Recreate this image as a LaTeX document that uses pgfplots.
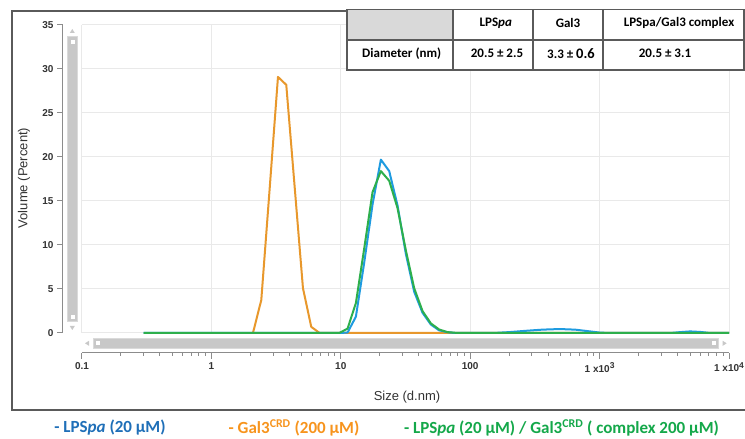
\documentclass[border=0pt]{standalone}
\usepackage{fontspec}
\setmainfont{Carlito}
\newfontfamily\arialf{Liberation Sans}
\usepackage{pgfplots}
\pgfplotsset{compat=1.18}

\definecolor{gridgray}{HTML}{E9E9E9}
\definecolor{axisgray}{HTML}{8C8C8C}
\definecolor{ticktext}{HTML}{333333}
\definecolor{framegray}{HTML}{5A5A5A}
\definecolor{barfill}{HTML}{C8C8C8}
\definecolor{barline}{HTML}{DADADA}
\definecolor{headfill}{HTML}{D9D9D9}
\definecolor{lineorange}{HTML}{E8982C}
\definecolor{lineblue}{HTML}{1E9BE0}
\definecolor{linegreen}{HTML}{2DAF4C}
\definecolor{txtblue}{HTML}{1F6FB8}
\definecolor{txtorange}{HTML}{F7941D}
\definecolor{txtgreen}{HTML}{14A84A}

% raised exponent for the tick labels
\newcommand{\tickexp}[1]{\raisebox{3.6pt}{\fontsize{8.5}{9}\selectfont #1}}

\begin{document}
\begin{tikzpicture}[x=1pt,y=1pt]
\fill[white] (0,0) rectangle (745,439);
\draw[framegray, line width=1.2pt] (12,29) rectangle (780,428);

\begin{axis}[
  at={(82pt,106pt)}, anchor=south west,
  scale only axis, width=647pt, height=308pt,
  xmode=log, xmin=0.1, xmax=10000, ymin=0, ymax=35,
  axis x line*=bottom, axis y line*=left,
  axis x line shift=20pt, axis y line shift=19pt,
  axis line style={axisgray, line width=1pt, -},
  grid=major, major grid style={gridgray, line width=1pt},
  xtick={0.1,1,10,100,1000,10000},
  xticklabels={0.1,1,10,100,{1 x10\tickexp{3}},{1 x10\tickexp{4}}},
  ytick={0,5,10,15,20,25,30,35},
  tick align=outside, major tick length=6pt,
  every tick/.style={axisgray, line width=1pt},
  /pgf/number format/assume math mode=true,
  tick label style={font=\arialf\bfseries\fontsize{10}{12}\selectfont, text=ticktext},
  clip=false,
]
% Gal3 CRD
\addplot[lineorange, line width=2pt, line join=round] coordinates {
  (2.095,0) (2.43,3.75) (2.82,16.4) (3.27,29.1) (3.79,28.2) (4.40,16.6)
  (5.10,5.1) (5.91,0.7) (6.86,0) (100,0) (10000,0)
};
% LPSpa
\addplot[lineblue, line width=2pt, line join=round] coordinates {
  (0.3,0) (9.73,0) (11.28,0.05) (13.08,1.85) (15.17,8.0) (17.59,14.6)
  (20.4,19.7) (23.66,18.4) (27.44,14.5) (31.82,9.0) (36.9,4.7) (42.8,2.3)
  (49.6,0.97) (57.5,0.3) (66.7,0.09) (77.4,0) (150,0) (200,0.1) (270,0.25)
  (360,0.38) (490,0.45) (650,0.38) (800,0.22) (1000,0.05) (1200,0)
  (3500,0) (4200,0.1) (5000,0.18) (6000,0.12) (7200,0) (10000,0)
};
% LPSpa / Gal3 CRD complex
\addplot[linegreen, line width=2pt, line join=round] coordinates {
  (0.3,0) (9.73,0) (11.28,0.5) (13.08,3.4) (15.17,9.6) (17.59,16.0)
  (20.4,18.4) (23.66,17.3) (27.44,14.2) (31.82,9.4) (36.9,5.1) (42.8,2.5)
  (49.6,1.1) (57.5,0.4) (66.7,0.1) (77.4,0.02) (89.7,0) (10000,0)
};
\end{axis}

% axis titles
\node[font=\arialf\fontsize{13}{15}\selectfont, text=ticktext, rotate=90] at (24,261) {Volume (Percent)};
\node[font=\arialf\fontsize{13}{15}\selectfont, text=ticktext] at (407,42) {Size (d.nm)};

% vertical scrollbar
\filldraw[fill=barfill, draw=barline, line width=0.8pt] (67.7,117.3) rectangle (77.3,402.3);
\filldraw[fill=white, draw=barfill, line width=0.6pt] (69.8,395) rectangle (74.8,400);
\filldraw[fill=white, draw=barfill, line width=0.6pt] (69.8,119.5) rectangle (74.8,124.5);
\fill[barfill] (69.8,406) -- (74.8,406) -- (72.3,410) -- cycle;
\fill[barfill] (69.8,113) -- (74.8,113) -- (72.3,109) -- cycle;

% horizontal scrollbar
\filldraw[fill=barfill, draw=barline, line width=0.8pt] (93.3,90.7) rectangle (718.3,100.7);
\filldraw[fill=white, draw=barfill, line width=0.6pt] (95.3,93.2) rectangle (100.3,98.2);
\filldraw[fill=white, draw=barfill, line width=0.6pt] (711.5,93.2) rectangle (716.5,98.2);
\fill[barfill] (89,93.2) -- (89,98.2) -- (85,95.7) -- cycle;
\fill[barfill] (722.7,93.2) -- (722.7,98.2) -- (726.7,95.7) -- cycle;

% results table
\fill[white] (347,369) rectangle (744,429.7);
\fill[headfill] (347,399) rectangle (453,429.7);
\draw[framegray, line width=1.2pt] (347,369) rectangle (744,429.7);
\draw[framegray, line width=1.2pt] (347,399) -- (744,399);
\foreach \cx in {453,533,603} \draw[framegray, line width=1.2pt] (\cx,369) -- (\cx,429.7);
\begin{scope}[every node/.style={font=\bfseries\fontsize{13}{15}\selectfont, text=black}]
\node at (495.8,415.7) {LPS\textit{pa}};
\node at (568,415.7) {Gal3};
\node at (679,415.7) {LPSpa/Gal3 complex};
\node at (401.7,385.5) {Diameter (nm)};
\node at (497,385.5) {20.5 ± 2.5};
\node at (571,385.5) {3.3 ± {\fontsize{14.5}{15}\selectfont 0.6}};
\node at (665,385.5) {20.5 ± 3.1};
\end{scope}

% legend
\begin{scope}[every node/.style={font=\bfseries\fontsize{17}{19}\selectfont}]
\node[text=txtblue] at (110,11) {- LPS\textit{pa} (20 µM)};
\node[text=txtorange] at (294,11) {- Gal3\textsuperscript{CRD} (200 µM)};
\node[text=txtgreen] at (561.5,11) {- LPS\textit{pa} (20 µM) / Gal3\textsuperscript{CRD} ( complex 200 µM)};
\end{scope}

\pgfresetboundingbox
\path[use as bounding box] (0,0) rectangle (745,439);
\end{tikzpicture}
\end{document}
